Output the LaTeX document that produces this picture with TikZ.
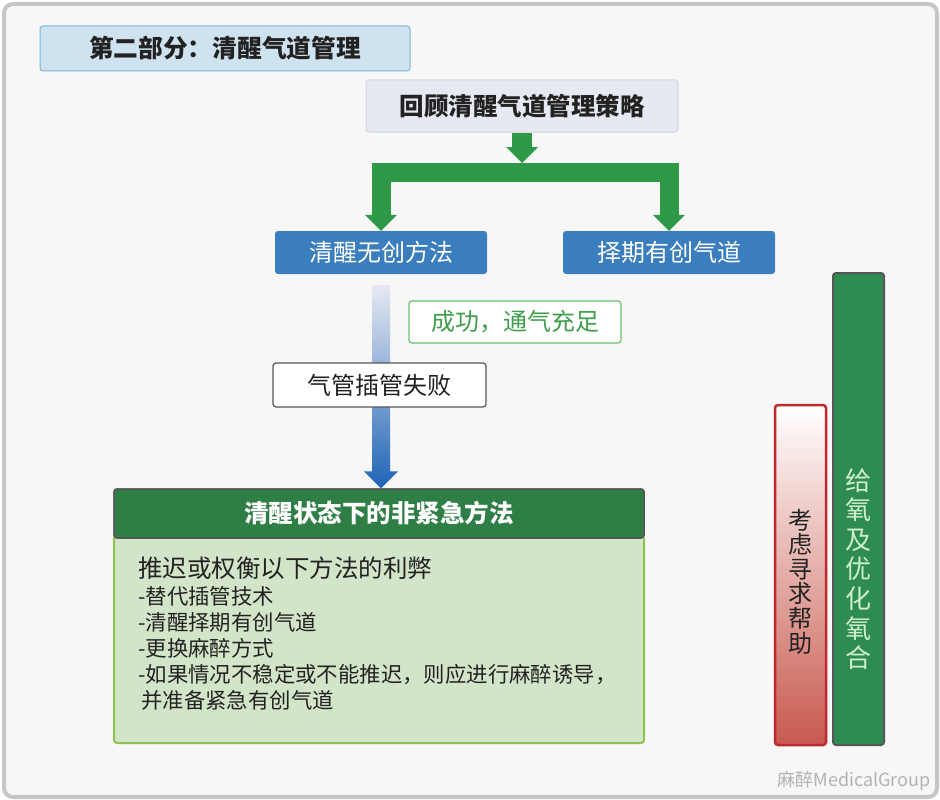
\documentclass[tikz,border=0pt]{standalone}
\usepackage{fontspec}
\setmainfont{Noto Sans CJK SC}
\usetikzlibrary{arrows.meta,calc}
\definecolor{framegray}{HTML}{C6C6C6}
\definecolor{pagebg}{HTML}{F7F7F7}
\definecolor{titlefill}{HTML}{CFE2EF}
\definecolor{titleline}{HTML}{7DB5D8}
\definecolor{reviewfill}{HTML}{E7E9F2}
\definecolor{reviewline}{HTML}{D5D7DF}
\definecolor{arrowgreen}{HTML}{2E9A48}
\definecolor{boxblue}{HTML}{3A7EBE}
\definecolor{arrowblue}{HTML}{1E64B6}
\definecolor{arrowmid}{HTML}{5F8DCC}
\definecolor{okgreen}{HTML}{3F9E4C}
\definecolor{okline}{HTML}{6CBF6C}
\definecolor{headgreen}{HTML}{2F7E46}
\definecolor{bodyfill}{HTML}{D3E5C8}
\definecolor{bodyline}{HTML}{8DC44E}
\definecolor{helpred}{HTML}{C0282E}
\definecolor{helpshade}{HTML}{C85A4F}
\definecolor{oxgreen}{HTML}{2E8C52}
\definecolor{oxtext}{HTML}{CDEFCB}
\definecolor{darkline}{HTML}{555555}
\definecolor{textdark}{HTML}{222222}
\begin{document}
\begin{tikzpicture}[x=1pt,y=-1pt,
    box/.style={rectangle,rounded corners=3pt,inner sep=0pt,font=\fontsize{24pt}{28pt}\selectfont},
    bluebox/.style={box,fill=boxblue,text=white,minimum width=212pt,minimum height=43pt},
    garrow/.style={draw=arrowgreen,line width=19pt,line join=miter,-{Triangle[width=32pt,length=16pt,line width=0pt]}},
    vtext/.style={align=center,inner sep=0pt}]
    \useasboundingbox (0,0) rectangle (940,800);
    \fill[white] (0,0) rectangle (940,800);
    \draw[framegray,line width=4pt,fill=pagebg,rounded corners=9pt] (4,4) rectangle (937,797);
    \node[box,fill=titlefill,draw=titleline,line width=1pt,minimum width=370pt,minimum height=45pt,text=textdark,font=\fontsize{24.7pt}{28pt}\selectfont\bfseries] (part) at (225,48.5) {第二部分：清醒气道管理};
    \node[box,fill=reviewfill,draw=reviewline,line width=1pt,minimum width=312pt,minimum height=52pt,text=textdark,font=\fontsize{24.5pt}{28pt}\selectfont\bfseries] (review) at (522,106) {回顾清醒气道管理策略};
    \node[bluebox] (noninv) at (381,252.5) {清醒无创方法};
    \node[bluebox] (elective) at (669,252.5) {择期有创气道};
    \coordinate (forktop) at (522,163);
    \coordinate (fork) at (522,172.5);
    \draw[garrow,line width=20pt] (review.south) -- (forktop);
    \draw[garrow] (fork) -| (noninv.north);
    \draw[garrow] (fork) -| (elective.north);
    \node[box,draw=darkline,fill=headgreen,line width=1.5pt,minimum width=530pt,minimum height=49pt] (mainhead) at (379,513.5) {};
    \coordinate (btop) at ($(noninv.south)+(0,11)$);
    \coordinate (btip) at (noninv.south |- mainhead.north);
    \shade[top color=reviewfill,middle color=arrowmid,bottom color=arrowblue]
        ($(btop)+(-9,0)$) -- ($(btop)+(9,0)$) -- ($(btip)+(9,-17)$) -- ($(btip)+(17,-17)$)
        -- (btip) -- ($(btip)+(-17,-17)$) -- ($(btip)+(-9,-17)$) -- cycle;
    \node[box,fill=white,draw=okline,line width=1.2pt,text=okgreen,minimum width=212pt,minimum height=42pt] (success) at (515,322) {成功，通气充足};
    \node[box,fill=white,draw=darkline,line width=1.2pt,text=textdark,minimum width=213pt,minimum height=44pt] (failed) at (379.5,385) {气管插管失败};
    \node[box,fill=bodyfill,draw=bodyline,line width=2pt,minimum width=530pt,minimum height=207pt] (mainbody) at (379,639.5) {};
    \node[box,draw=darkline,fill=headgreen,line width=1.5pt,minimum width=530pt,minimum height=49pt,text=white,font=\fontsize{24.5pt}{28pt}\selectfont\bfseries] at (mainhead) {清醒状态下的非紧急方法};
    \node[anchor=north west,align=left,inner sep=0pt,text=textdark,font=\fontsize{21.4pt}{26pt}\selectfont] (options) at (138,557)
        {{\fontsize{24.5pt}{27pt}\selectfont 推迟或权衡以下方法的利弊}\\[1pt]
         -替代插管技术\\
         -清醒择期有创气道\\
         -更换麻醉方式\\
         -如果情况不稳定或不能推迟，则应进行麻醉诱导，\\
         \hspace{3pt}并准备紧急有创气道};
    \node[box,draw=helpred,line width=2.5pt,top color=white,middle color=helpshade!30!white,bottom color=helpshade,minimum width=51pt,minimum height=340pt] (help) at (800.5,575) {};
    \node[box,draw=darkline,fill=oxgreen,line width=2pt,minimum width=51pt,minimum height=472pt] (oxygen) at (858.5,509) {};
    \node[vtext,text=textdark,font=\fontsize{24pt}{24.6pt}\selectfont] (helptext) at (800.5,581.5) {考\\虑\\寻\\求\\帮\\助};
    \node[vtext,text=oxtext,font=\fontsize{26pt}{29.6pt}\selectfont] (oxtextnode) at (858.5,569) {给\\氧\\及\\优\\化\\氧\\合};
    \node[text=black!30,font=\fontsize{18pt}{20pt}\selectfont,inner sep=0pt] (mark) at (854,781) {麻醉MedicalGroup};
\end{tikzpicture}
\end{document}
